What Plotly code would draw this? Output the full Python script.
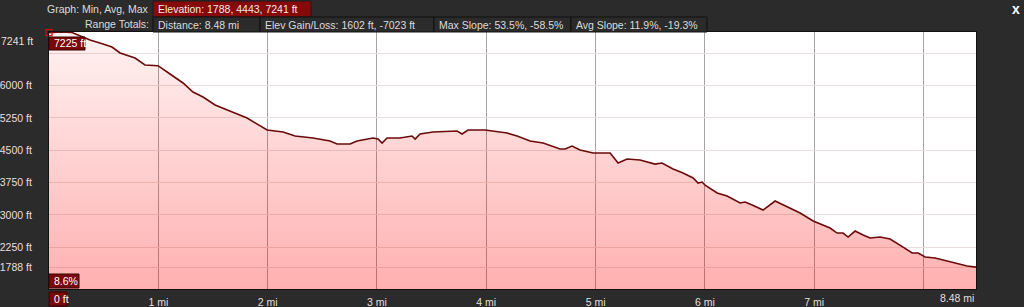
import plotly.graph_objects as go

# ---------------- data ----------------
distance_mi = [0.00, 0.10, 0.21, 0.30, 0.375, 0.494, 0.576, 0.650, 0.723, 0.787, 0.878, 0.997,
               1.107, 1.226, 1.317, 1.409, 1.519, 1.656, 1.812, 1.995, 2.141, 2.251, 2.415,
               2.571, 2.635, 2.754, 2.818, 2.964, 3.010, 3.047, 3.092, 3.211, 3.321, 3.349,
               3.394, 3.513, 3.641, 3.733, 3.779, 3.833, 3.989, 4.099, 4.190, 4.282, 4.401,
               4.520, 4.675, 4.721, 4.785, 4.858, 4.977, 5.133, 5.206, 5.288, 5.407, 5.544,
               5.608, 5.709, 5.800, 5.892, 5.938, 5.974, 6.002, 6.112, 6.203, 6.322, 6.368,
               6.432, 6.532, 6.642, 6.752, 6.871, 6.990, 7.145, 7.209, 7.264, 7.310, 7.374,
               7.447, 7.511, 7.603, 7.694, 7.813, 7.896, 7.951, 8.015, 8.106, 8.216, 8.335,
               8.399, 8.48]
elevation_ft = [7225, 7241, 7230, 7125, 7055, 6963, 6893, 6754, 6684, 6638, 6475, 6460,
                6267, 6058, 5849, 5733, 5547, 5408, 5246, 4967, 4921, 4828, 4782,
                4712, 4643, 4643, 4712, 4782, 4759, 4666, 4782, 4782, 4828, 4759,
                4875, 4921, 4944, 4944, 4875, 4967, 4967, 4921, 4898, 4828, 4712,
                4666, 4527, 4527, 4596, 4503, 4434, 4434, 4202, 4295, 4271, 4178,
                4202, 4063, 3970, 3854, 3738, 3761, 3691, 3506, 3436, 3274, 3297,
                3227, 3111, 3320, 3181, 3042, 2856, 2694, 2578, 2578, 2485, 2624,
                2531, 2462, 2485, 2438, 2253, 2114, 2114, 2021, 1998, 1928, 1858,
                1812, 1788]

y_grid_ft = [1788, 2250, 3000, 3750, 4500, 5250, 6000, 6750, 7241]
y_grid_labels = ["1788 ft", "2250 ft", "3000 ft", "3750 ft", "4500 ft", "5250 ft", "6000 ft", "", ""]
top_label = "7241 ft"
x_grid_mi = [0, 1, 2, 3, 4, 5, 6, 7, 8]
x_grid_labels = ["", "1 mi", "2 mi", "3 mi", "4 mi", "5 mi", "6 mi", "7 mi", ""]
end_label = "8.48 mi"

elev_stats = [1788, 4443, 7241]
total_distance = 8.48
gain_loss = [1602, -7023]
max_slope = [53.5, -58.5]
avg_slope = [11.9, -19.3]

cursor_mi = 0
cursor_ft = 7225
cursor_slope = "8.6%"
cursor_dist = "0 ft"

# ---------------- layout geometry ----------------
W, H = 1024, 307
PL, PR, PT, PB = 49, 976, 32, 289
Y_MIN, Y_MAX = 1280, 7241

def px(x):
    return (x - PL) / (PR - PL)

def py(y):
    return (PB - y) / (PB - PT)

BG = "#2b2b2b"
TXT = "#dcdcdc"
LBL = "#eadede"
FONT = "Liberation Sans, Arial, sans-serif"
FS = 10.5

fig = go.Figure()

fig.add_trace(go.Scatter(
    x=distance_mi, y=elevation_ft, mode="lines",
    line=dict(color="#6a0a0a", width=1.6),
    fill="tozeroy",
    fillgradient=dict(type="vertical", start=Y_MIN, stop=Y_MAX,
                      colorscale=[[0, "rgba(255,0,0,0.31)"], [1, "rgba(255,0,0,0.05)"]]),
    hoverinfo="skip", showlegend=False,
))

fig.add_trace(go.Scatter(
    x=[cursor_mi], y=[cursor_ft], mode="markers",
    marker=dict(symbol="square-open", size=6, color="#d01010", line=dict(width=1.2)),
    hoverinfo="skip", showlegend=False, cliponaxis=False,
))

shapes = []
annotations = []

def box(x0, x1, y0, y1, text, bg, fg, border, size=FS):
    shapes.append(dict(type="rect", xref="paper", yref="paper",
                       x0=px(x0), x1=px(x1), y0=py(y1), y1=py(y0),
                       fillcolor=bg, line=dict(color=border, width=1), layer="above"))
    annotations.append(dict(text=text, xref="paper", yref="paper",
                            x=px(x0 + 3), y=py((y0 + y1) / 2), xanchor="left", yanchor="middle",
                            showarrow=False, font=dict(color=fg, size=size, family=FONT)))

def label(x, y, text, anchor="right", size=FS, color=TXT):
    annotations.append(dict(text=text, xref="paper", yref="paper",
                            x=px(x), y=py(y), xanchor=anchor, yanchor="middle",
                            showarrow=False, font=dict(color=color, size=size, family=FONT)))

# header
label(151, 9, "Graph: Min, Avg, Max")
label(151, 24, "Range Totals:")
box(153, 311, 1, 17, "Elevation: %d, %d, %d ft" % tuple(elev_stats), "#860a0a", "#f4e8e8", "#1a1a1a")
box(153, 260, 17, 32, "Distance: %.2f mi" % total_distance, BG, TXT, "#111111")
box(260, 434, 17, 32, "Elev Gain/Loss: %d ft, %d ft" % tuple(gain_loss), BG, TXT, "#111111")
box(434, 571, 17, 32, "Max Slope: %.1f%%, %.1f%%" % tuple(max_slope), BG, TXT, "#111111")
box(571, 707, 17, 32, "Avg Slope: %.1f%%, %.1f%%" % tuple(avg_slope), BG, TXT, "#111111")
annotations.append(dict(text="<b>x</b>", xref="paper", yref="paper", x=px(1016), y=py(9),
                        xanchor="center", yanchor="middle", showarrow=False,
                        font=dict(color="#ffffff", size=14, family=FONT)))

# axis end labels
annotations.append(dict(text=top_label, xref="paper", yref="y", x=px(35), y=Y_MAX, yshift=-1,
                        xanchor="right", yanchor="top", showarrow=False,
                        font=dict(color=LBL, size=FS, family=FONT)))
annotations.append(dict(text=end_label, xref="x", yref="paper", x=total_distance, y=py(298),
                        xanchor="right", yanchor="middle", showarrow=False,
                        font=dict(color=LBL, size=FS, family=FONT)))

# cursor read-outs
box(49, 85, 37, 50, "%d ft" % cursor_ft, "#7a0808", "#ffffff", "#3a0000")
box(49, 79, 274, 288, cursor_slope, "#7a0808", "#ffffff", "#3a0000")
box(49, 67, 292, 306, cursor_dist, "#7a0808", "#ffffff", "#3a0000")

fig.update_layout(
    width=W, height=H, autosize=False,
    margin=dict(l=PL, r=W - PR, t=PT, b=H - PB, pad=0),
    paper_bgcolor=BG, plot_bgcolor="#ffffff",
    shapes=shapes, annotations=annotations,
    font=dict(family=FONT, size=FS, color=LBL),
    xaxis=dict(range=[0, total_distance], tickvals=x_grid_mi, ticktext=x_grid_labels,
               showgrid=True, gridcolor="#a4a4a4", gridwidth=1, zeroline=False,
               showline=True, linecolor="#111111", linewidth=1, mirror=True,
               ticks="", ticklabelstandoff=3, tickfont=dict(size=FS, color=LBL),
               automargin=False, fixedrange=True),
    yaxis=dict(range=[Y_MIN, Y_MAX], tickvals=y_grid_ft, ticktext=y_grid_labels,
               showgrid=True, gridcolor="#e6dfdb", gridwidth=1, zeroline=False,
               showline=True, linecolor="#111111", linewidth=1, mirror=True,
               ticks="", ticklabelstandoff=14, tickfont=dict(size=FS, color=LBL),
               automargin=False, fixedrange=True),
)

fig.write_html("out.html", config={"displayModeBar": False})
